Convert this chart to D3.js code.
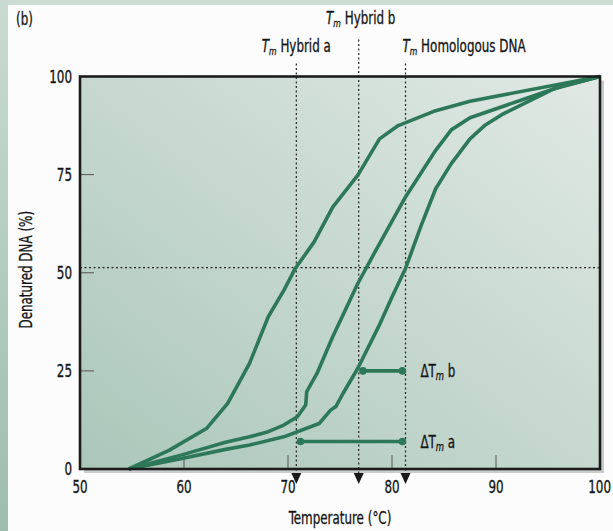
<!DOCTYPE html>
<html>
<head>
<meta charset="utf-8">
<script src="https://cdn.jsdelivr.net/npm/d3@7"></script>
<style>
  body { margin: 0; background: #fbfcfb; }
  text { font-family: "DejaVu Sans Condensed", "DejaVu Sans", sans-serif; fill: #151515; stroke: #151515; stroke-width: 0.3px; }
</style>
</head>
<body>
<div class="chart"></div>
<script>
// curves: [temperature, % denatured]
var hybridA = [[54.7,0],[58.6,4.8],[62.2,10.4],[64.2,16.7],[66.3,26.9],[68.1,38.8],[69.6,45.5],[70.7,51.1],
               [72.5,57.8],[74.3,66.7],[76.7,74.8],[78.8,84.1],[80.6,87.5],[84.2,91.3],[87.5,93.7],[100,100]];
var hybridB = [[54.7,0],[59.8,3.6],[64.0,6.8],[66.3,8.2],[68.1,9.5],[69.6,11.2],[70.9,13.3],[71.7,16.3],[71.8,19.7],
               [72.8,24.4],[74.3,33.7],[76.7,47.2],[78.3,55.0],[81.3,69.3],[84.2,81.2],[85.7,86.4],[87.5,89.5],[96.3,97.5],[100,100]];
var homologous = [[54.7,0],[59.8,2.7],[64.0,5.0],[66.3,6.1],[69.6,8.2],[73.0,11.6],[74.1,15.0],[74.6,15.9],[75.3,19.3],
                  [76.7,25.6],[78.7,36.2],[80.0,43.8],[81.3,51.1],[82.8,62.0],[84.2,71.4],[85.7,77.8],[87.5,84.1],
                  [88.9,87.5],[90.7,90.5],[95.6,96.9],[100,100]];

var tmTemps = [70.8, 76.8, 81.3];
var tmNames = ["Hybrid a", "Hybrid b", "Homologous DNA"];
var halfLevel = 51.3;
var deltaLevels = [25, 7];
var deltaStart = [77.2, 71.2];
var deltaEnd = [81.0, 81.0];
var deltaNames = ["b", "a"];

var xTicks = [50, 60, 70, 80, 90, 100];
var yTicks = [0, 25, 50, 75, 100];

var margin = {top: 76.5, left: 80},
    width = 520,
    height = 392.5;

var squeeze = " scale(0.78,1)"; // narrow typeface look

var svg = d3.select(".chart").append("svg")
    .attr("width", 613)
    .attr("height", 531);

var defs = svg.append("defs");
var pg = defs.append("linearGradient").attr("id", "plotfill")
    .attr("x1", 0).attr("y1", 1).attr("x2", 1).attr("y2", 0);
pg.append("stop").attr("offset", 0).attr("stop-color", "#abc7ba");
pg.append("stop").attr("offset", 1).attr("stop-color", "#e1e9e5");
var sg = defs.append("linearGradient").attr("id", "sidefill")
    .attr("x1", 0).attr("y1", 0).attr("x2", 0).attr("y2", 1);
sg.append("stop").attr("offset", 0).attr("stop-color", "#c9dbd3");
sg.append("stop").attr("offset", 1).attr("stop-color", "#9dbdb0");

// page frame
svg.append("rect").attr("width", 613).attr("height", 5).attr("fill", "#cddcd5");
svg.append("rect").attr("width", 8).attr("height", 531).attr("fill", "url(#sidefill)");

var x = d3.scaleLinear().domain([50, 100]).range([0, width]);
var y = d3.scaleLinear().domain([0, 100]).range([height, 0]);

var g = svg.append("g")
    .attr("transform", "translate(" + margin.left + "," + margin.top + ")");

// shadow + plot area
g.append("rect").attr("x", 4).attr("y", 4).attr("width", width).attr("height", height).attr("fill", "#c9cccb");
g.append("rect").attr("width", width).attr("height", height).attr("fill", "url(#plotfill)");

// inner ticks
g.selectAll(".xt").data(xTicks.slice(1, -1)).enter().append("line")
    .attr("x1", function(d) { return x(d); }).attr("x2", function(d) { return x(d); })
    .attr("y1", height).attr("y2", height - 14)
    .attr("stroke", "#555").attr("stroke-width", 1);
g.selectAll(".yt").data(yTicks.slice(1, -1)).enter().append("line")
    .attr("x1", 0).attr("x2", 14)
    .attr("y1", function(d) { return y(d); }).attr("y2", function(d) { return y(d); })
    .attr("stroke", "#555").attr("stroke-width", 1);

// tick labels
g.selectAll(".xl").data(xTicks).enter().append("text")
    .attr("transform", function(d) {
      var px = d === 100 ? width + 11 : x(d);
      return "translate(" + px + "," + (height + 24) + ")" + squeeze;
    })
    .attr("text-anchor", function(d) { return d === 100 ? "end" : "middle"; })
    .style("font-size", "17px")
    .text(function(d) { return d; });
g.selectAll(".yl").data(yTicks).enter().append("text")
    .attr("transform", function(d) { return "translate(-8," + (y(d) + 6) + ")" + squeeze; })
    .attr("text-anchor", "end")
    .style("font-size", "17px")
    .text(function(d) { return d; });

// 50% guide
g.append("line")
    .attr("x1", 0).attr("x2", width)
    .attr("y1", y(halfLevel)).attr("y2", y(halfLevel))
    .attr("stroke", "#222").attr("stroke-width", 1.2).attr("stroke-dasharray", "2,2.5");

// Tm guides with arrowheads
var tmTop = [-13, -37, -13];
tmTemps.forEach(function(t, i) {
  g.append("line")
      .attr("x1", x(t)).attr("x2", x(t))
      .attr("y1", tmTop[i]).attr("y2", height + 6)
      .attr("stroke", "#222").attr("stroke-width", 1.2).attr("stroke-dasharray", "2,2.5");
  g.append("path")
      .attr("d", "M" + (x(t) - 5) + "," + (height + 4) + "L" + (x(t) + 5) + "," + (height + 4) + "L" + x(t) + "," + (height + 15) + "Z")
      .attr("fill", "#1a1a1a");
});

// curves
var line = d3.line()
    .x(function(d) { return x(d[0]); })
    .y(function(d) { return y(d[1]); });

[hybridA, hybridB, homologous].forEach(function(s) {
  g.append("path")
      .datum(s)
      .attr("d", line)
      .attr("fill", "none")
      .attr("stroke", "#2c7859")
      .attr("stroke-width", 3.6)
      .attr("stroke-linejoin", "round");
});

// delta Tm bars
deltaLevels.forEach(function(v, i) {
  g.append("line")
      .attr("x1", x(deltaStart[i])).attr("x2", x(deltaEnd[i]))
      .attr("y1", y(v)).attr("y2", y(v))
      .attr("stroke", "#2c7859").attr("stroke-width", 3.6);
  [deltaStart[i], deltaEnd[i]].forEach(function(t) {
    g.append("circle").attr("cx", x(t)).attr("cy", y(v)).attr("r", 3.8).attr("fill", "#2c7859");
  });
  var lab = g.append("text")
      .attr("transform", "translate(" + (x(deltaEnd[i]) + 18) + "," + (y(v) + 6) + ")" + squeeze)
      .style("font-size", "17px");
  lab.append("tspan").text("\u0394T");
  lab.append("tspan").attr("dy", 3).style("font-style", "italic").style("font-size", "12px").text("m");
  lab.append("tspan").attr("dy", -3).text(" " + deltaNames[i]);
});

// frame
g.append("rect").attr("width", width).attr("height", height)
    .attr("fill", "none").attr("stroke", "#1c1c1c").attr("stroke-width", 2.6);

// Tm labels above
var tmLabelY = [-25, -53, -25];
var tmAnchor = ["middle", "middle", "start"];
var tmDx = [0, 2, -3];
tmTemps.forEach(function(t, i) {
  var lab = g.append("text")
      .attr("transform", "translate(" + (x(t) + tmDx[i]) + "," + tmLabelY[i] + ")" + squeeze)
      .attr("text-anchor", tmAnchor[i])
      .style("font-size", "17px");
  lab.append("tspan").style("font-style", "italic").text("T");
  lab.append("tspan").attr("dy", 3).style("font-style", "italic").style("font-size", "11px").text("m");
  lab.append("tspan").attr("dy", -3).text(" " + tmNames[i]);
});

// axis titles
svg.append("text")
    .attr("transform", "translate(" + (margin.left + width / 2) + ",524)" + squeeze)
    .attr("text-anchor", "middle")
    .style("font-size", "17px")
    .text("Temperature (\u00B0C)");
svg.append("text")
    .attr("transform", "translate(32," + (margin.top + height / 2 - 3) + ") rotate(-90)" + squeeze)
    .attr("text-anchor", "middle")
    .style("font-size", "17px")
    .text("Denatured DNA (%)");

svg.append("text")
    .attr("transform", "translate(16,25)" + squeeze)
    .style("font-size", "17px")
    .text("(b)");
</script>
</body>
</html>
